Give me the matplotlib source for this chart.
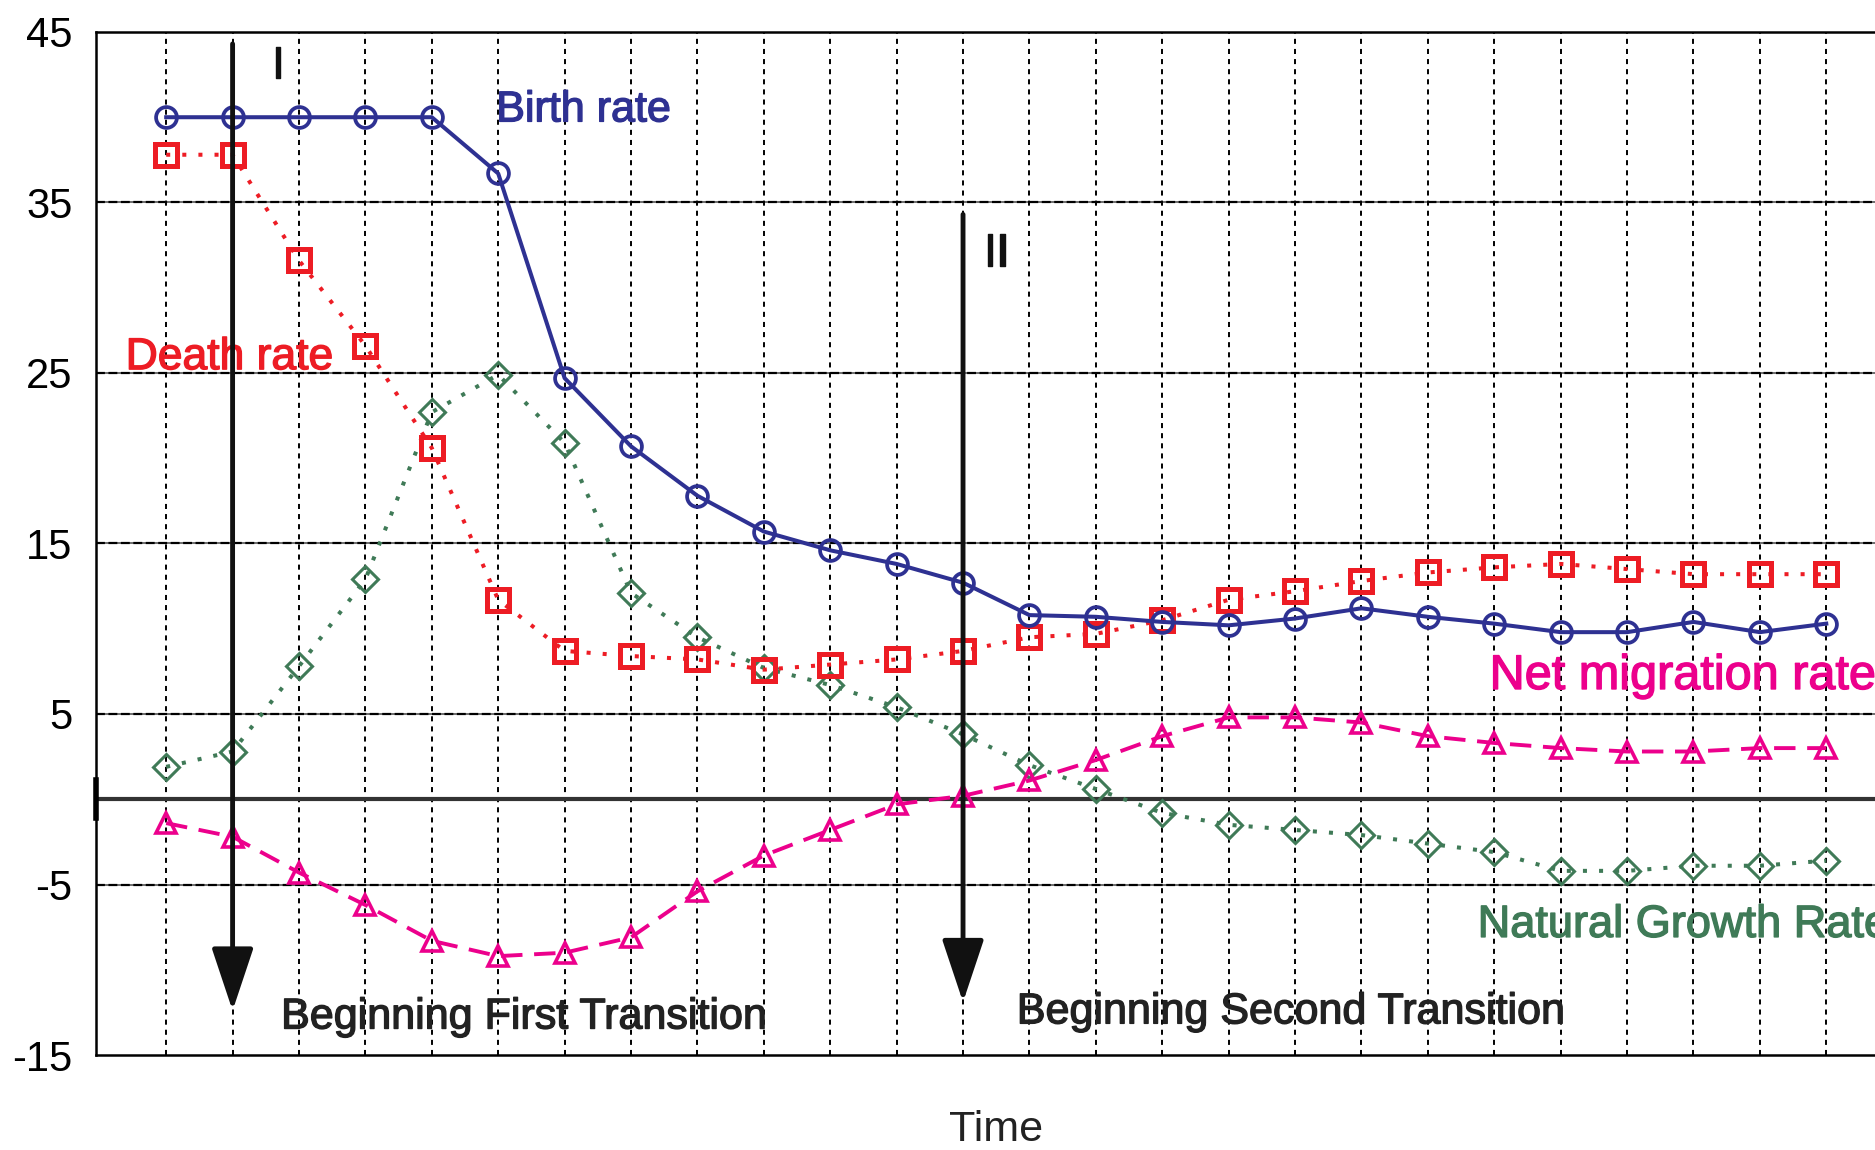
import numpy as np
import matplotlib
matplotlib.use("Agg")
import matplotlib.pyplot as plt
import matplotlib.patheffects as pe

plt.rcParams['font.family'] = ['Liberation Sans', 'DejaVu Sans']
plt.rcParams['axes.unicode_minus'] = False

# datos
periodos = np.arange(1, 27)
natalidad = [40, 40, 40, 40, 40, 36.7, 24.7, 20.7, 17.8, 15.7, 14.6, 13.8, 12.7,
             10.8, 10.7, 10.4, 10.2, 10.6, 11.2, 10.7, 10.3, 9.8, 9.8, 10.4, 9.8, 10.3]
mortalidad = [37.8, 37.8, 31.6, 26.6, 20.6, 11.7, 8.7, 8.4, 8.2, 7.6, 7.9, 8.2, 8.7,
              9.5, 9.7, 10.5, 11.7, 12.2, 12.8, 13.3, 13.6, 13.8, 13.5, 13.2, 13.2, 13.2]
crecimiento = [1.9, 2.8, 7.8, 12.9, 22.7, 24.9, 20.9, 12.1, 9.5, 7.7, 6.7, 5.4, 3.8,
               2.0, 0.6, -0.8, -1.5, -1.8, -2.1, -2.6, -3.1, -4.2, -4.2, -3.9, -3.9, -3.6]
migracion = [-1.4, -2.2, -4.3, -6.2, -8.3, -9.2, -9.0, -8.1, -5.4, -3.3, -1.8, -0.3, 0.2,
             1.1, 2.3, 3.7, 4.8, 4.8, 4.5, 3.7, 3.3, 3.0, 2.8, 2.8, 3.0, 3.0]
yticks = [45, 35, 25, 15, 5, -5, -15]

azul = '#2E3192'
rojo = '#ED1C24'
verde = '#3F7A57'
magenta = '#EC008C'

fig = plt.figure(figsize=(18.75, 11.5), dpi=100)
ax = fig.add_axes([0.0512, 0.0826, 0.96, 0.8896])
ax.set_xlim(-0.057, 27.05)
ax.set_ylim(-15, 45)

# rejilla
for v in yticks[1:-1]:
    ax.axhline(v, color='#555555', lw=1.2, zorder=1)
    ax.axhline(v, color='k', lw=1.6, linestyle=(0, (4, 1.6)), zorder=1)
for p in periodos:
    ax.axvline(p, color='k', lw=1.4, linestyle=(0, (2.6, 2.6)), zorder=1)
ax.axhline(0, color='#333333', lw=3, zorder=2)
ax.plot([-0.057, -0.057], [-1.1, 1.1], color='k', lw=4, clip_on=False, zorder=3)

ax.set_xticks([])
ax.set_yticks(yticks)
ax.tick_params(axis='y', length=0, pad=17, labelsize=30)
for s in ['left', 'top', 'bottom']:
    ax.spines[s].set_linewidth(1.8)
ax.spines['right'].set_visible(False)

# series
ax.plot(periodos, natalidad, color=azul, lw=2.9, marker='o', ms=15, mew=2.7,
        mfc='none', zorder=6)
ax.plot(periodos, mortalidad, color=rojo, lw=2.9, linestyle=(0, (1, 3)), marker='s',
        ms=16.5, mew=3.6, mfc='none', zorder=5)
ax.plot(periodos, crecimiento, color=verde, lw=2.9, linestyle=(0, (1, 3)), marker='D',
        ms=13, mew=2.2, mfc='none', zorder=4)
ax.plot(periodos, migracion, color=magenta, lw=2.8, linestyle=(0, (5.5, 3)), marker='^',
        ms=14, mew=2.6, mfc='none', zorder=4)

# flechas de transicion
flecha = dict(arrowstyle='-|>,head_length=3.9,head_width=1.3',
              lw=3.5, color='#111111', shrinkA=0, shrinkB=0)
ax.annotate('', xy=(2, -12.4), xytext=(2, 44.3), arrowprops=flecha, zorder=7)
ax.annotate('', xy=(13, -11.9), xytext=(13, 34.3), arrowprops=flecha, zorder=7)

grueso = [pe.withStroke(linewidth=1.0, foreground='#111111')]
ax.text(2.68, 43.0, 'I', fontsize=33, ha='center', va='center', color='#111111',
        path_effects=grueso)
ax.text(13.5, 32.0, 'II', fontsize=33, ha='center', va='center', color='#111111',
        path_effects=grueso)


def etiqueta(x, y, texto, color, size):
    ax.text(x, y, texto, color=color, fontsize=size, va='center',
            path_effects=[pe.withStroke(linewidth=1.0, foreground=color)])


etiqueta(5.97, 40.4, 'Birth rate', azul, 31)
etiqueta(0.39, 25.9, 'Death rate', rojo, 32)
etiqueta(20.93, 7.2, 'Net migration rate', magenta, 35)
etiqueta(20.75, -7.4, 'Natural Growth Rate', verde, 32.5)
etiqueta(2.73, -12.8, 'Beginning First Transition', '#222222', 31)
etiqueta(13.81, -12.5, 'Beginning Second Transition', '#222222', 31)

fig.text(996 / 1875, 1 - 1130 / 1150, 'Time', fontsize=31, ha='center', va='center',
         color='#222222')

fig.savefig('out.png', dpi=100)
